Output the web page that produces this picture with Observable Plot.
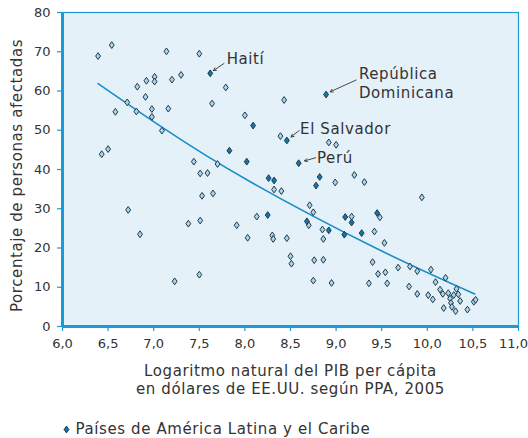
<!DOCTYPE html>
<html>
<head>
<meta charset="utf-8">
<script src="https://cdn.jsdelivr.net/npm/d3@7"></script>
<script src="https://cdn.jsdelivr.net/npm/@observablehq/plot@0.6"></script>
<style>
  html, body { margin: 0; padding: 0; background: #ffffff; }
  #chart { width: 528px; height: 438px; }
  #chart svg text { letter-spacing: 0.6px; }
  #chart svg g[aria-label$="tick label"] text, #chart svg g.ticklabel text { letter-spacing: 0; }
</style>
</head>
<body>
<div id="chart"></div>
<script>
// Other countries (light diamonds): log GDP per capita, % affected
const otherX = [6.39,6.54,6.58,6.43,6.50,6.71,6.81,6.82,6.92,6.91,7.01,7.01,6.98,6.98,7.09,7.14,7.20,7.16,7.30,7.50,
  7.64,7.79,8.00,7.44,7.51,7.59,7.70,6.72,6.85,7.23,7.38,7.51,7.50,7.53,7.65,7.91,8.03,8.13,8.43,8.39,
  8.92,9.00,8.32,8.40,8.99,9.20,9.31,8.30,8.31,8.46,8.50,8.51,8.71,8.75,8.70,8.85,8.86,8.76,8.86,8.75,
  8.95,9.17,9.48,9.42,9.53,9.40,9.46,9.54,9.36,9.56,9.68,9.81,9.89,9.94,9.80,9.89,10.04,10.01,10.06,10.09,
  10.20,10.14,10.17,10.18,10.23,10.25,10.26,10.27,10.31,10.32,10.29,10.34,10.36,10.44,10.51,10.53];
const otherY = [68.9,71.7,54.7,43.9,45.2,57.1,54.8,61.1,62.6,58.5,63.6,62.4,55.4,53.4,49.9,70.1,62.9,55.5,64.1,69.5,
  56.8,60.9,53.8,42.0,39.0,39.1,41.4,29.7,23.5,11.5,26.2,27.0,13.2,33.3,33.9,25.8,22.6,28.0,57.7,48.5,
  46.9,46.3,34.9,34.5,36.7,38.6,36.8,23.2,22.3,22.5,17.9,16.0,30.9,29.1,25.8,24.7,22.3,16.9,17.0,11.7,
  11.1,28.0,27.8,24.2,21.3,16.4,13.4,13.8,11.0,11.0,15.0,15.3,14.1,32.9,10.2,8.3,14.5,8.0,6.9,11.3,
  12.4,9.4,8.3,4.7,8.5,7.1,6.0,5.0,3.9,9.6,8.0,8.2,6.5,4.3,6.3,6.8];

// Latin America and the Caribbean (dark diamonds)
const latamX = [7.62,8.89,8.09,8.46,8.59,7.83,8.02,8.26,8.32,8.82,8.78,8.25,8.68,8.92,9.10,9.17,9.09,9.28,9.45];
const latamY = [64.5,59.1,51.2,47.4,41.6,44.8,42.0,37.8,37.2,38.1,35.9,28.4,26.8,24.5,27.9,26.5,23.4,23.8,28.9];

// Fitted trend curve
const trendX = [6.39,7.09,8.05,9.45,10.52];
const trendY = [61.9,50.8,37.0,19.8,8.3];

// Labelled countries: label, text position, arrow start and end
const labelNames = ["Haití","República\nDominicana","El Salvador","Perú"];
const labelX = [7.80,9.25,8.605,8.79];
const labelY = [68.4,62.2,50.7,43.1];
const arrowX1 = [7.77,9.22,8.594,8.775];
const arrowY1 = [67.0,62.8,49.9,43.0];
const arrowX2 = [7.655,8.935,8.506,8.654];
const arrowY2 = [65.2,59.8,48.3,42.2];

const xTicks = [6,6.5,7,7.5,8,8.5,9,9.5,10,10.5,11];
const yTicks = [0,10,20,30,40,50,60,70,80];
const xTitle = "Logaritmo natural del PIB per cápita\nen dólares de EE.UU. según PPA, 2005";
const yTitle = "Porcentaje de personas afectadas";
const legendLabel = "Países de América Latina y el Caribe";

const others = otherX.map((x, i) => ({x, y: otherY[i]}));
const latam = latamX.map((x, i) => ({x, y: latamY[i]}));
const trend = trendX.map((x, i) => ({x, y: trendY[i]}));
const labels = labelNames.map((t, i) => ({t, x: labelX[i], y: labelY[i], x1: arrowX1[i], y1: arrowY1[i], x2: arrowX2[i], y2: arrowY2[i]}));

const tallDiamond = {
  draw(ctx, size) {
    const h = Math.sqrt(size / 1.44), w = 0.72 * h;
    ctx.moveTo(0, -h); ctx.lineTo(w, 0); ctx.lineTo(0, h); ctx.lineTo(-w, 0); ctx.closePath();
  }
};

const fmt = d => d.toFixed(1).replace(".", ",");
const lastTick = xTicks[xTicks.length - 1];

const blue = "#1b9ad7";
const ink = "#333333";
const lightFill = "#a6d6ef";
const darkFill = "#0b79b1";
const outline = "#263844";
const font = "DejaVu Sans";

const chart = Plot.plot({
  width: 528,
  height: 438,
  marginTop: 12,
  marginLeft: 62,
  marginRight: 10,
  marginBottom: 112,
  style: {fontFamily: font, fontSize: "13px", color: ink, background: "#ffffff"},
  x: {domain: [6, 11]},
  y: {domain: [0, 80]},
  marks: [
    Plot.frame({fill: "#e4f1f9", stroke: blue, strokeWidth: 1.2}),
    Plot.axisX({ticks: xTicks, tickFormat: d => d === lastTick ? "" : fmt(d), tickSize: 5, tickPadding: 7,
      stroke: blue, fill: ink, strokeWidth: 1.2, fontSize: 13, label: null}),
    Plot.text([lastTick], {x: d => d, text: fmt, frameAnchor: "bottom", lineAnchor: "top", dy: 12, dx: 9.5,
      textAnchor: "end", fontSize: 13, fill: ink, className: "ticklabel"}),
    Plot.axisY({ticks: yTicks, tickSize: 5, tickPadding: 7, stroke: blue, fill: ink, strokeWidth: 1.2, fontSize: 13, label: null}),
    Plot.ruleX([6], {stroke: blue, strokeWidth: 3}),
    Plot.ruleY([0], {stroke: blue, strokeWidth: 3}),
    Plot.line(trend, {x: "x", y: "y", curve: "natural", stroke: "#1a8dc9", strokeWidth: 1.6}),
    Plot.dot(others, {x: "x", y: "y", symbol: tallDiamond, r: 2.3, fill: lightFill, stroke: outline, strokeWidth: 1}),
    Plot.dot(latam, {x: "x", y: "y", symbol: tallDiamond, r: 2.3, fill: darkFill, stroke: outline, strokeWidth: 1}),
    Plot.arrow(labels, {x1: "x1", y1: "y1", x2: "x2", y2: "y2", stroke: ink, strokeWidth: 0.9, headLength: 5}),
    Plot.text(labels, {x: "x", y: "y", text: "t", textAnchor: "start", lineAnchor: "middle", lineHeight: 1.27,
      fontSize: 15, fill: ink}),
    Plot.text([xTitle], {frameAnchor: "bottom", dy: 53, textAnchor: "middle", lineAnchor: "middle", lineHeight: 1.17, fontSize: 15, fill: ink}),
    Plot.text([yTitle], {frameAnchor: "left", dx: -45, dy: 6, rotate: -90, textAnchor: "middle", lineAnchor: "middle", fontSize: 15, fill: ink}),
    Plot.dot([legendLabel], {frameAnchor: "bottom-left", dx: 4, dy: 103, symbol: tallDiamond, r: 2.3,
      fill: darkFill, stroke: outline, strokeWidth: 1}),
    Plot.text([legendLabel], {frameAnchor: "bottom-left", dx: 13, dy: 103, textAnchor: "start", lineAnchor: "middle", fontSize: 15, fill: ink})
  ]
});
document.getElementById("chart").appendChild(chart);
</script>
</body>
</html>
